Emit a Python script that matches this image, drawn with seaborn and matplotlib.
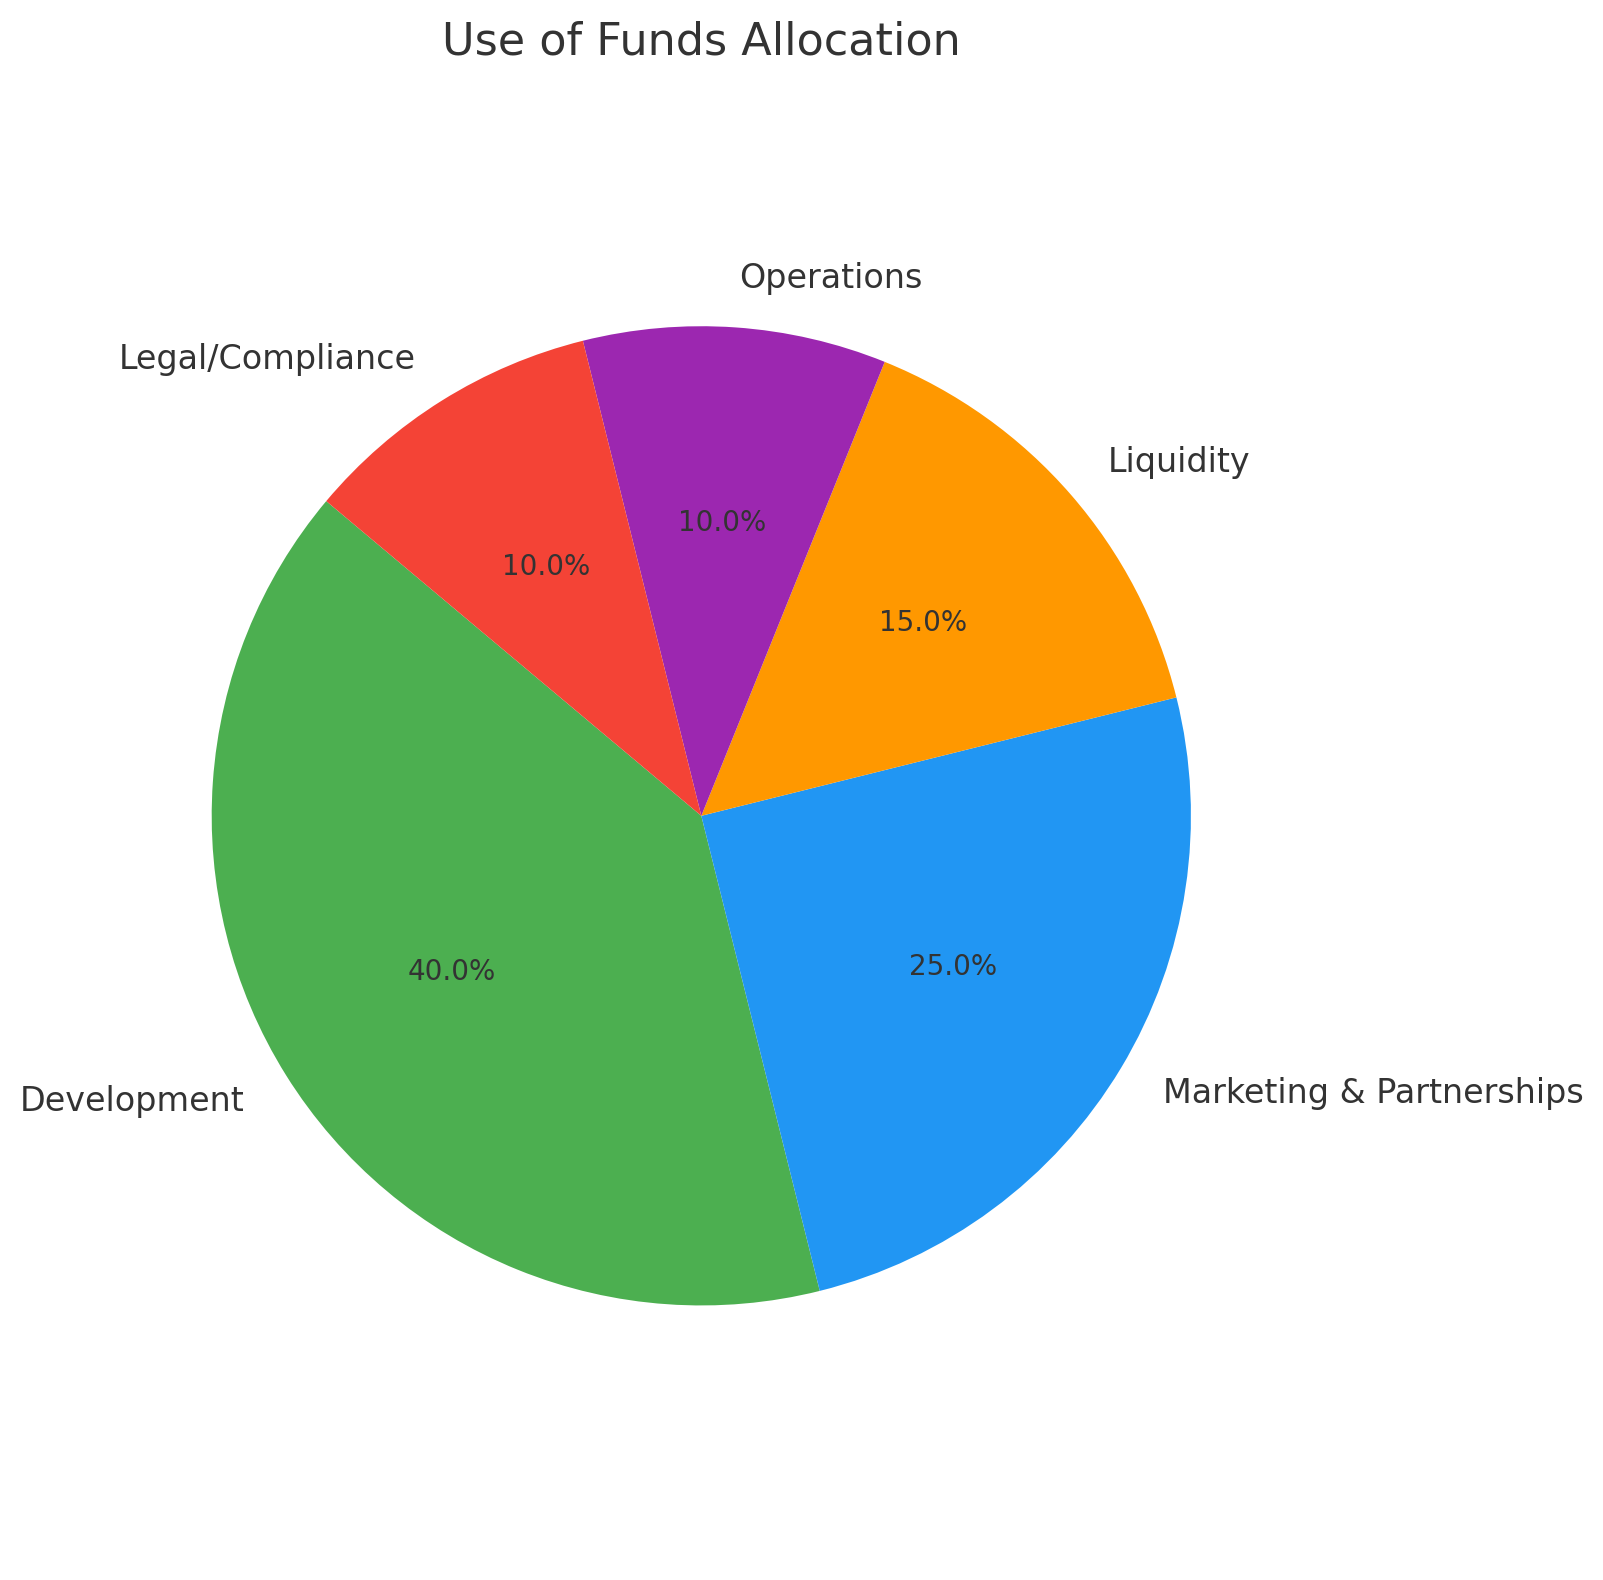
import matplotlib
matplotlib.use("Agg")
import matplotlib.pyplot as plt
import seaborn as sns

# Allocation of raised funds, in percent
categories = ["Development", "Marketing & Partnerships", "Liquidity", "Operations", "Legal/Compliance"]
shares = [40, 25, 15, 10, 10]
colors = ["#4CAF50", "#2196F3", "#FF9800", "#9C27B0", "#F44336"]

sns.set_theme(style="white", context="notebook")
plt.rcParams["font.family"] = ["DejaVu Sans"]
text_color = "#333333"

W, H, DPI = 1603, 1580, 200
fig = plt.figure(figsize=(W / DPI, H / DPI), dpi=DPI)
fig.patch.set_facecolor("white")

# square axes holding the pie (limits +/-1.25 around the unit circle)
ax = fig.add_axes([0.0557, 0.0963, 0.7636, 0.7747])
wedges, texts, autotexts = ax.pie(
    shares,
    labels=categories,
    colors=sns.color_palette(colors),
    startangle=140,
    autopct="%1.1f%%",
    pctdistance=0.6,
    labeldistance=1.1,
    wedgeprops={"linewidth": 0, "edgecolor": "none"},
    textprops={"color": text_color, "fontsize": 12},
)
for t in autotexts:
    t.set_fontsize(10)
    t.set_color(text_color)
ax.set_xlim(-1.25, 1.25)
ax.set_ylim(-1.25, 1.25)
ax.set_aspect("equal", adjustable="datalim")
ax.axis("off")

fig.text(0.4375, 0.9658, "Use of Funds Allocation", ha="center", va="baseline",
         fontsize=16, color=text_color)

fig.savefig("out.png", dpi=DPI, facecolor="white")
